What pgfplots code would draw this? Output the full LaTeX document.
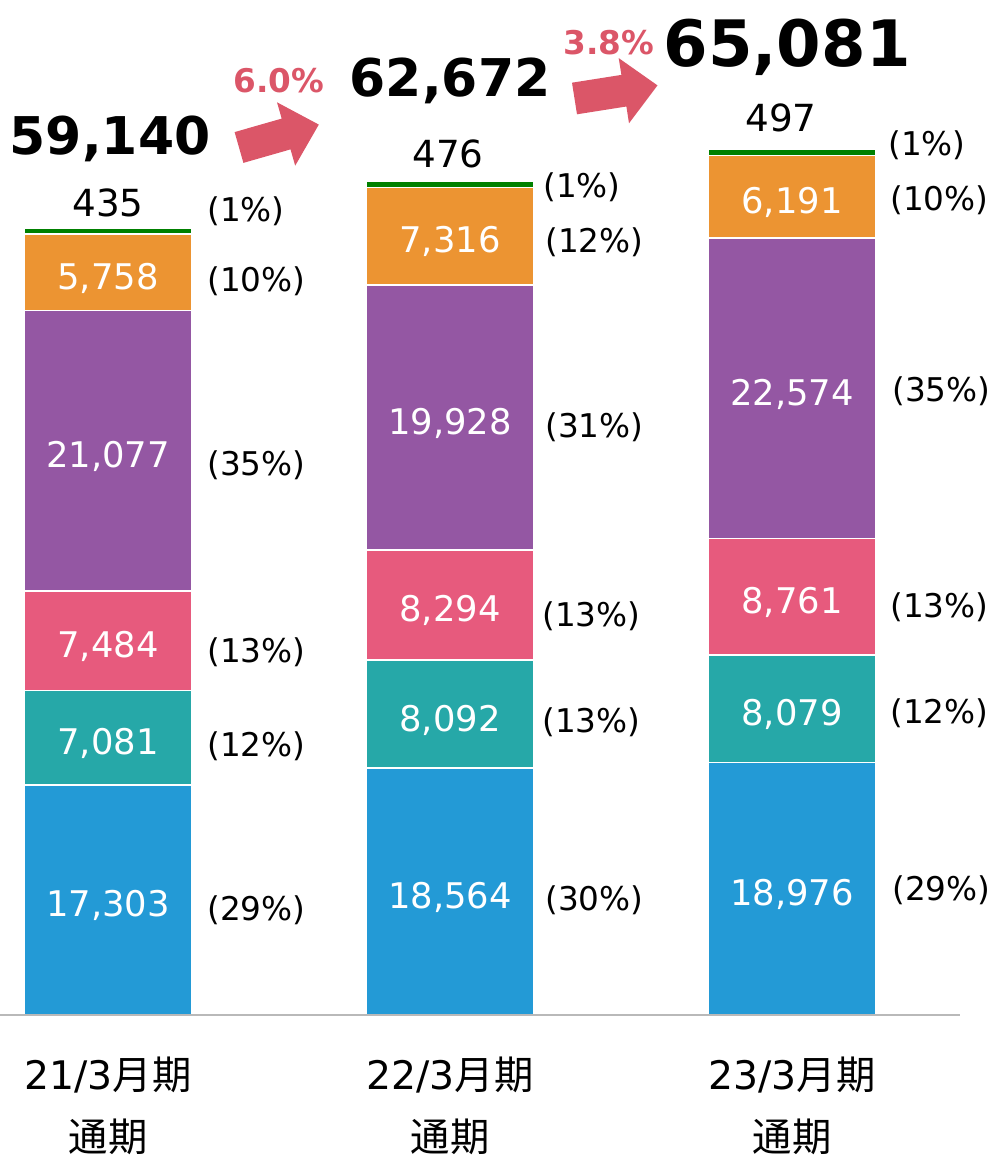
\documentclass[border=0pt]{standalone}
\usepackage{pgfplots}
\pgfplotsset{compat=1.18}
\usepackage{fontspec}
\setmainfont{DejaVu Sans}
\newfontfamily\jp{Noto Sans CJK JP}
\definecolor{cblue}{RGB}{35,154,214}
\definecolor{cteal}{RGB}{38,168,168}
\definecolor{cpink}{RGB}{231,90,125}
\definecolor{cpurple}{RGB}{148,87,163}
\definecolor{corange}{RGB}{236,148,50}
\definecolor{cgreen}{RGB}{0,128,0}
\definecolor{carrow}{RGB}{219,86,104}
\definecolor{axisgray}{RGB}{185,185,185}
\tikzset{
  vlab/.style={font=\fontsize{26.5}{26.5}\selectfont, text=white, anchor=center, inner sep=0pt, text height=19.3pt, text depth=0pt, yshift=-3pt},
  tlab/.style={font=\fontsize{28}{28}\selectfont, anchor=base, inner sep=0pt},
  plab/.style={font=\fontsize{24.5}{24.5}\selectfont, anchor=west, inner sep=0pt},
  big/.style={font=\bfseries\fontsize{#1}{#1}\selectfont, anchor=base, inner sep=0pt},
  rate/.style={font=\bfseries\fontsize{24.5}{24.5}\selectfont, text=carrow, anchor=base, inner sep=0pt},
}
\begin{document}
\begin{tikzpicture}
\begin{axis}[
  at={(0pt,106.5pt)}, anchor=south west,
  scale only axis, width=720pt, height=698.6pt,
  xmin=-0.31579, xmax=2.49123, ymin=0, ymax=70000,
  ybar stacked, bar width=126pt,
  axis on top=true,
  axis x line*=bottom, axis y line=none,
  x axis line style={-, draw=axisgray, line width=2pt},
  xtick={0,1,2},
  xticklabels={{21/3{\jp 月期}\\{\jp 通期}},{22/3{\jp 月期}\\{\jp 通期}},{23/3{\jp 月期}\\{\jp 通期}}},
  major tick length=0pt,
  xticklabel style={font=\fontsize{29.5}{47}\selectfont, align=center, anchor=north, inner sep=0pt, yshift=-31pt},
  ytick=\empty,
  clip=false,
]
\addplot[fill=cblue, draw=white, line width=1.2pt] coordinates {(0,17303) (1,18564) (2,18976)};
\addplot[fill=cteal, draw=white, line width=1.2pt] coordinates {(0,7081) (1,8092) (2,8079)};
\addplot[fill=cpink, draw=white, line width=1.2pt] coordinates {(0,7484) (1,8294) (2,8761)};
\addplot[fill=cpurple, draw=white, line width=1.2pt] coordinates {(0,21077) (1,19928) (2,22574)};
\addplot[fill=corange, draw=white, line width=1.2pt] coordinates {(0,5758) (1,7316) (2,6191)};
\addplot[fill=cgreen, draw=white, line width=1.2pt] coordinates {(0,435) (1,476) (2,497)};
% centres of the segments (cumulative midpoints)
\coordinate (a1) at (axis cs:0,8651.5);
\coordinate (a2) at (axis cs:0,20843.5);
\coordinate (a3) at (axis cs:0,28126);
\coordinate (a4) at (axis cs:0,42406.5);
\coordinate (a5) at (axis cs:0,55824);
\coordinate (b1) at (axis cs:1,9282);
\coordinate (b2) at (axis cs:1,22610);
\coordinate (b3) at (axis cs:1,30803);
\coordinate (b4) at (axis cs:1,44914);
\coordinate (b5) at (axis cs:1,58536);
\coordinate (c1) at (axis cs:2,9488);
\coordinate (c2) at (axis cs:2,23015.5);
\coordinate (c3) at (axis cs:2,31435.5);
\coordinate (c4) at (axis cs:2,47103);
\coordinate (c5) at (axis cs:2,61485.5);
\end{axis}
% segment values
\node[vlab] at (a1) {17,303};
\node[vlab] at (a2) {7,081};
\node[vlab] at (a3) {7,484};
\node[vlab] at (a4) {21,077};
\node[vlab] at (a5) {5,758};
\node[vlab] at (b1) {18,564};
\node[vlab] at (b2) {8,092};
\node[vlab] at (b3) {8,294};
\node[vlab] at (b4) {19,928};
\node[vlab] at (b5) {7,316};
\node[vlab] at (c1) {18,976};
\node[vlab] at (c2) {8,079};
\node[vlab] at (c3) {8,761};
\node[vlab] at (c4) {22,574};
\node[vlab] at (c5) {6,191};
\begin{scope}[x=0.75pt,y=-0.75pt,yshift=867.75pt]
% top small values
\node[tlab] at (108,217) {435};
\node[tlab] at (448,168) {476};
\node[tlab] at (781,131.5) {497};
% totals
\node[big=39] at (110,155) {59,140};
\node[big=39] at (450,97) {62,672};
\node[big=48] at (787,66.5) {65,081};
% growth rates
\node[rate] at (279,93) {6.0\%};
\node[rate] at (609,55) {3.8\%};
% arrows
\fill[carrow] (234.6,132.1) -- (281.7,118.6) -- (277.0,102.3) -- (318.8,124.6) -- (295.2,165.7) -- (290.5,149.4) -- (243.4,162.9) -- cycle;
\fill[carrow] (572.0,82.7) -- (621.4,74.9) -- (618.7,58.1) -- (657.5,85.4) -- (629.0,123.3) -- (626.4,106.5) -- (577.0,114.3) -- cycle;
% percentages
\node[plab] at (207,211.5) {(1\%)};
\node[plab] at (207,281) {(10\%)};
\node[plab] at (207,465) {(35\%)};
\node[plab] at (207,652) {(13\%)};
\node[plab] at (207,746) {(12\%)};
\node[plab] at (207,910) {(29\%)};
\node[plab] at (543,187) {(1\%)};
\node[plab] at (545,242) {(12\%)};
\node[plab] at (545,427) {(31\%)};
\node[plab] at (542,616) {(13\%)};
\node[plab] at (542,722) {(13\%)};
\node[plab] at (545,900) {(30\%)};
\node[plab] at (888,145) {(1\%)};
\node[plab] at (890,200) {(10\%)};
\node[plab] at (892,391) {(35\%)};
\node[plab] at (890,607) {(13\%)};
\node[plab] at (890,713) {(12\%)};
\node[plab] at (892,890) {(29\%)};
\end{scope}
\pgfresetboundingbox
\useasboundingbox (0pt,0pt) rectangle (744.75pt,867.75pt);
\end{tikzpicture}
\end{document}
